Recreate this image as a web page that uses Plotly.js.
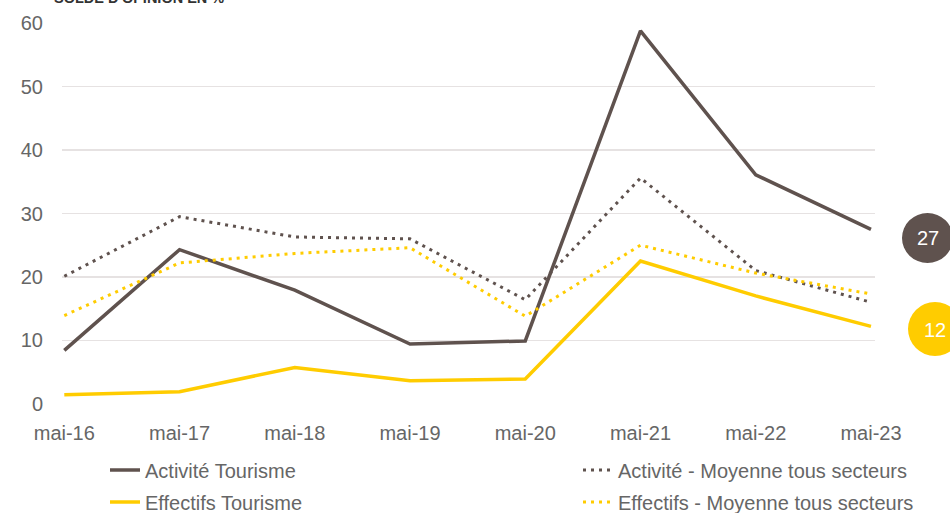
<!DOCTYPE html>
<html>
<head>
<meta charset="utf-8">
<script src="https://cdn.plot.ly/plotly-3.0.1.min.js"></script>
<style>
  html, body { margin: 0; padding: 0; background: #fff; }
  #chart { width: 950px; height: 513px; }
</style>
</head>
<body>
<div id="chart"></div>
<script>
var months = ['mai-16', 'mai-17', 'mai-18', 'mai-19', 'mai-20', 'mai-21', 'mai-22', 'mai-23'];

var activiteTourisme = [8.4, 24.3, 17.9, 9.4, 9.9, 58.8, 36.1, 27.5];
var activiteMoyenne = [20.1, 29.5, 26.3, 26.0, 16.4, 35.6, 21.0, 16.0];
var effectifsTourisme = [1.4, 1.9, 5.7, 3.6, 3.9, 22.5, 17.0, 12.2];
var effectifsMoyenne = [13.9, 22.2, 23.7, 24.6, 13.8, 25.0, 20.6, 17.3];

var badgeValues = ['27', '12'];

var brown = '#5f524e';
var yellow = '#ffcc00';
var textGrey = '#666666';
var font = 'Liberation Sans, Arial, sans-serif';

function makeTrace(name, values, color, dotted, legend) {
    return {
        x: months,
        y: values,
        type: 'scatter',
        mode: 'lines',
        name: name,
        legend: legend,
        showlegend: true,
        line: {
            color: color,
            width: dotted ? 3 : 3.5,
            dash: dotted ? '3px,5px' : 'solid'
        },
        hoverinfo: 'skip'
    };
}

var data = [
    makeTrace('Activité Tourisme', activiteTourisme, brown, false, 'legend'),
    makeTrace('Activité - Moyenne tous secteurs', activiteMoyenne, brown, true, 'legend2'),
    makeTrace('Effectifs Tourisme', effectifsTourisme, yellow, false, 'legend3'),
    makeTrace('Effectifs - Moyenne tous secteurs', effectifsMoyenne, yellow, true, 'legend4')
];

// plot area: x 62..875, y 23..404 (pixels)
function px2x(px) { return (px - 62) / 813; }
function px2y(py) { return (404 - py) / 381; }

// legends are placed in container coordinates so they do not push the margins
function legendAt(px, py) {
    return {
        visible: true,
        orientation: 'h',
        font: { family: font, size: 20, color: textGrey },
        bgcolor: 'rgba(0,0,0,0)',
        xref: 'container',
        yref: 'container',
        x: px / 950,
        y: (513 - py) / 513,
        xanchor: 'left',
        yanchor: 'middle',
        itemclick: false
    };
}

var layout = {
    width: 950,
    height: 513,
    margin: { t: 23, l: 62, r: 75, b: 109 },
    showlegend: true,
    paper_bgcolor: '#ffffff',
    plot_bgcolor: '#ffffff',
    font: { family: font, size: 20, color: textGrey },
    xaxis: {
        type: 'category',
        range: [-0.02, 7.035],
        showgrid: false,
        showline: false,
        zeroline: false,
        ticks: '',
        ticklabelstandoff: 15,
        tickfont: { family: font, size: 20, color: textGrey },
        fixedrange: true
    },
    yaxis: {
        range: [-0.05, 60.05],
        tickvals: [0, 10, 20, 30, 40, 50, 60],
        showgrid: true,
        gridcolor: '#e6e2e2',
        gridwidth: 1.5,
        zeroline: false,
        showline: false,
        ticks: '',
        ticklabelstandoff: 18,
        tickfont: { family: font, size: 20, color: textGrey },
        fixedrange: true
    },
    legend: legendAt(105, 470),
    legend2: legendAt(578, 470),
    legend3: legendAt(105, 502),
    legend4: legendAt(578, 502),
    shapes: [
        {
            type: 'circle', xref: 'paper', yref: 'paper',
            x0: px2x(902), x1: px2x(953), y0: px2y(263), y1: px2y(213),
            fillcolor: brown, line: { width: 0 }, layer: 'above'
        },
        {
            type: 'circle', xref: 'paper', yref: 'paper',
            x0: px2x(908), x1: px2x(962), y0: px2y(356), y1: px2y(302),
            fillcolor: yellow, line: { width: 0 }, layer: 'above'
        }
    ],
    annotations: [
        {
            text: "SOLDE D'OPINION EN %",
            xref: 'paper', yref: 'paper',
            x: px2x(52), y: px2y(8),
            xanchor: 'left', yanchor: 'bottom',
            showarrow: false,
            font: { family: font, size: 14.5, color: '#333333', weight: 'bold' }
        },
        {
            text: badgeValues[0],
            xref: 'paper', yref: 'paper',
            x: px2x(928), y: px2y(238),
            xanchor: 'center', yanchor: 'middle',
            showarrow: false,
            font: { family: font, size: 20, color: '#ffffff' }
        },
        {
            text: badgeValues[1],
            xref: 'paper', yref: 'paper',
            x: px2x(935), y: px2y(330),
            xanchor: 'center', yanchor: 'middle',
            showarrow: false,
            font: { family: font, size: 20, color: '#ffffff' }
        }
    ]
};

var options = { displayModeBar: false, staticPlot: true };

Plotly.newPlot('chart', data, layout, options);
</script>
</body>
</html>
